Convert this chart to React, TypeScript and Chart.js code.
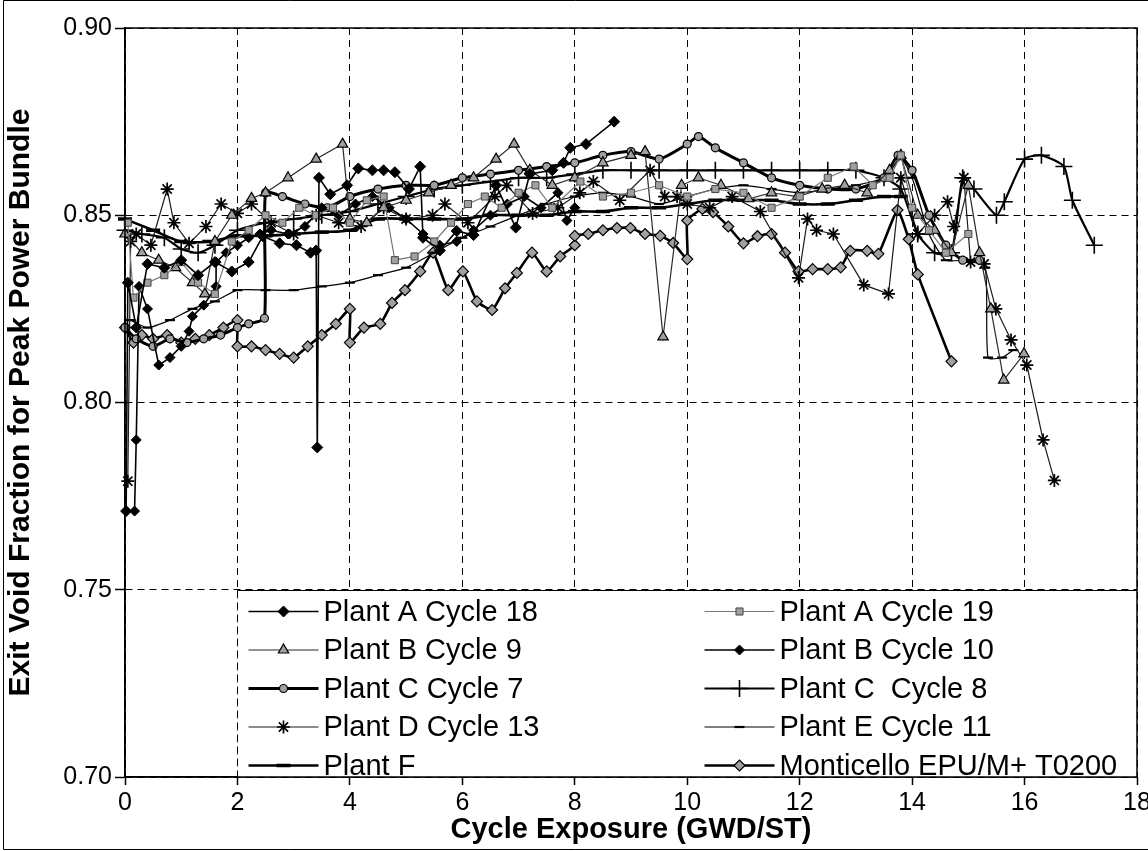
import React, { useEffect, useRef } from 'react';
import { Chart, registerables } from 'chart.js';
import { drawPoint } from 'chart.js/helpers';

Chart.register(...registerables);

// ---------- data ----------
const xTickStep = 2;
const yTickStep = 0.05;

const plantA18X = [0.02, 0.05, 0.2, 0.4, 0.7, 1.0, 1.3, 1.6, 1.9, 2.2, 2.45, 2.75, 3.05, 3.3, 3.4, 3.42, 3.45, 3.65, 3.95, 4.15, 4.4, 4.6, 4.8, 5.05, 5.25, 5.3, 5.6, 5.9, 6.2, 6.6, 6.95, 7.2, 7.6, 7.8, 7.92, 8.2, 8.7];
const plantA18Y = [0.771, 0.832, 0.82, 0.837, 0.836, 0.838, 0.834, 0.8375, 0.835, 0.8375, 0.8444, 0.8425, 0.842, 0.84, 0.8406, 0.788, 0.86, 0.8556, 0.858, 0.8625, 0.862, 0.862, 0.8615, 0.857, 0.863, 0.844, 0.8406, 0.8458, 0.8447, 0.858, 0.8467, 0.861, 0.862, 0.864, 0.868, 0.869, 0.875];

const plantA19X = [0.05, 0.15, 0.4, 0.7, 1.0, 1.3, 1.6, 1.9, 2.2, 2.5, 2.8, 3.1, 3.4, 3.7, 4.0, 4.3, 4.6, 4.8, 5.15, 5.5, 5.8, 6.1, 6.4, 6.7, 7.0, 7.3, 7.6, 8.1, 8.5, 9.0, 9.5, 10.0, 10.5, 11.0, 11.5, 12.0, 12.5, 12.96, 13.3, 13.6, 13.8, 14.0, 14.3, 14.6, 15.0];
const plantA19Y = [0.848, 0.828, 0.832, 0.834, 0.8375, 0.832, 0.829, 0.843, 0.846, 0.85, 0.848, 0.852, 0.85, 0.852, 0.848, 0.854, 0.855, 0.838, 0.839, 0.843, 0.848, 0.853, 0.855, 0.852, 0.856, 0.858, 0.852, 0.859, 0.855, 0.856, 0.858, 0.855, 0.857, 0.856, 0.852, 0.855, 0.86, 0.863, 0.858, 0.86, 0.866, 0.852, 0.846, 0.84, 0.845];

const plantB9X = [0.0, 0.3, 0.6, 0.9, 1.2, 1.42, 1.6, 1.9, 2.25, 2.5, 2.9, 3.4, 3.87, 4.0, 4.3, 4.6, 5.0, 5.4, 5.8, 6.2, 6.6, 6.92, 7.2, 7.6, 8.0, 8.5, 9.0, 9.25, 9.57, 9.9, 10.2, 10.6, 11.09, 11.5, 11.96, 12.4, 12.8, 13.2, 13.6, 13.8, 14.1, 14.4, 14.7, 15.0, 15.2, 15.4, 15.63, 15.99];
const plantB9Y = [0.845, 0.84, 0.838, 0.836, 0.832, 0.829, 0.843, 0.85, 0.8545, 0.856, 0.86, 0.865, 0.869, 0.849, 0.848, 0.852, 0.854, 0.856, 0.858, 0.86, 0.865, 0.869, 0.862, 0.858, 0.86, 0.864, 0.866, 0.867, 0.8175, 0.858, 0.86, 0.858, 0.8544, 0.856, 0.855, 0.857, 0.858, 0.856, 0.862, 0.866, 0.85, 0.846, 0.84, 0.858, 0.84, 0.825, 0.806, 0.813];

const plantB10X = [0.17, 0.2, 0.25, 0.4, 0.6, 0.8, 1.0, 1.14, 1.2, 1.4, 1.62, 1.62, 1.8, 2.0, 2.2, 2.4, 2.6, 2.9, 3.2, 3.5, 3.8, 4.1, 4.4, 4.7, 5.0, 5.3, 5.6, 5.9, 6.2, 6.5, 6.8, 7.1, 7.4, 7.7, 7.86, 8.0];
const plantB10Y = [0.771, 0.79, 0.831, 0.825, 0.81, 0.812, 0.815, 0.819, 0.823, 0.826, 0.831, 0.8375, 0.84, 0.842, 0.844, 0.845, 0.846, 0.845, 0.847, 0.852, 0.85, 0.853, 0.855, 0.852, 0.849, 0.845, 0.842, 0.843, 0.846, 0.85, 0.853, 0.855, 0.852, 0.856, 0.8486, 0.852];

const plantC7X = [0.0, 0.2, 0.5, 0.8, 1.1, 1.4, 1.7, 2.0, 2.2, 2.48, 2.5, 2.8, 3.2, 3.6, 4.0, 4.5, 5.0, 5.5, 6.0, 6.5, 7.0, 7.5, 8.0, 8.5, 9.0, 9.5, 10.0, 10.2, 10.5, 11.0, 11.5, 12.0, 12.5, 13.0, 13.5, 13.75, 14.0, 14.3, 14.6, 14.9, 15.2];
const plantC7Y = [0.82, 0.817, 0.815, 0.817, 0.816, 0.817, 0.818, 0.82, 0.821, 0.8225, 0.856, 0.855, 0.853, 0.852, 0.855, 0.857, 0.858, 0.858, 0.86, 0.861, 0.862, 0.863, 0.864, 0.866, 0.867, 0.865, 0.869, 0.871, 0.868, 0.864, 0.86, 0.858, 0.857, 0.857, 0.86, 0.866, 0.862, 0.85, 0.842, 0.838, 0.838];

const plantC8X = [0.0, 0.3, 0.7, 1.0, 1.3, 1.6, 2.0, 2.5, 3.0, 3.5, 4.0, 4.5, 5.0, 5.5, 6.0, 6.5, 7.0, 7.5, 8.0, 8.5, 9.0, 9.5, 10.0, 10.5, 11.0, 11.5, 12.0, 12.5, 13.0, 13.5, 13.8, 14.1, 14.4, 14.7, 14.9, 15.1, 15.5, 15.64, 16.0, 16.3, 16.7, 16.85, 17.24];
const plantC8Y = [0.846, 0.845, 0.844, 0.841, 0.84, 0.842, 0.846, 0.848, 0.849, 0.85, 0.851, 0.853, 0.855, 0.857, 0.858, 0.859, 0.86, 0.86, 0.861, 0.862, 0.862, 0.862, 0.862, 0.862, 0.862, 0.862, 0.862, 0.862, 0.862, 0.86, 0.857, 0.845, 0.84, 0.84, 0.86, 0.857, 0.85, 0.8536, 0.865, 0.866, 0.863, 0.854, 0.842];

const plantD13X = [0.05, 0.1, 0.2, 0.46, 0.75, 0.87, 1.14, 1.44, 1.71, 2.0, 2.25, 2.6, 3.0, 3.4, 3.8, 4.2, 4.6, 5.0, 5.47, 5.69, 6.1, 6.58, 6.79, 7.25, 7.7, 8.09, 8.33, 8.8, 9.34, 9.6, 9.82, 10.0, 10.4, 10.8, 11.3, 11.98, 12.14, 12.3, 12.6, 13.14, 13.58, 13.8, 14.1, 14.4, 14.63, 14.74, 14.92, 15.04, 15.28, 15.49, 15.76, 16.04, 16.33, 16.53];
const plantD13Y = [0.779, 0.843, 0.845, 0.842, 0.857, 0.848, 0.8425, 0.847, 0.853, 0.8505, 0.853, 0.848, 0.845, 0.85, 0.848, 0.847, 0.852, 0.849, 0.85, 0.853, 0.848, 0.855, 0.858, 0.8505, 0.852, 0.856, 0.859, 0.854, 0.862, 0.855, 0.855, 0.853, 0.852, 0.855, 0.851, 0.8333, 0.849, 0.846, 0.845, 0.8314, 0.829, 0.86, 0.845, 0.85, 0.8536, 0.847, 0.86, 0.8375, 0.837, 0.825, 0.8167, 0.81, 0.79, 0.7792];

const plantE11X = [0.1, 0.4, 0.8, 1.2, 1.6, 2.0, 2.5, 3.0, 3.5, 4.0, 4.5, 5.0, 5.5, 6.0, 6.5, 7.0, 7.5, 8.0, 8.5, 9.0, 9.5, 10.0, 10.5, 11.0, 11.5, 12.0, 12.5, 13.0, 13.5, 13.8, 14.0, 14.3, 14.6, 15.0, 15.3, 15.35, 15.6, 15.8];
const plantE11Y = [0.822, 0.82, 0.822, 0.825, 0.827, 0.83, 0.83, 0.83, 0.831, 0.832, 0.834, 0.836, 0.84, 0.844, 0.847, 0.85, 0.853, 0.855, 0.856, 0.855, 0.853, 0.855, 0.857, 0.858, 0.857, 0.856, 0.857, 0.858, 0.86, 0.865, 0.86, 0.845, 0.838, 0.838, 0.836, 0.812, 0.812, 0.814];

const plantFX = [0.0, 0.5, 1.0, 1.5, 2.0, 2.5, 3.0, 3.5, 4.0, 4.5, 5.0, 5.5, 6.0, 6.5, 7.0, 7.5, 8.0, 8.5, 9.0, 9.5, 10.0, 10.5, 11.0, 11.5, 12.0, 12.5, 13.0, 13.5, 13.8];
const plantFY = [0.849, 0.846, 0.843, 0.843, 0.8445, 0.8445, 0.845, 0.8455, 0.846, 0.849, 0.849, 0.849, 0.849, 0.85, 0.85, 0.85, 0.851, 0.851, 0.852, 0.852, 0.853, 0.854, 0.854, 0.854, 0.853, 0.853, 0.854, 0.855, 0.855];

const monticelloX = [0.0, 0.15, 0.3, 0.5, 0.75, 1.0, 1.25, 1.5, 1.75, 2.0, 2.0, 2.25, 2.5, 2.75, 3.0, 3.25, 3.5, 3.75, 4.0, 4.0, 4.25, 4.54, 4.75, 4.98, 5.25, 5.48, 5.75, 6.01, 6.26, 6.53, 6.76, 6.97, 7.24, 7.5, 7.74, 8.0, 8.0, 8.24, 8.5, 8.75, 8.99, 9.25, 9.52, 9.75, 10.0, 10.0, 10.27, 10.46, 10.73, 11.0, 11.25, 11.5, 11.74, 11.98, 12.23, 12.5, 12.73, 12.9, 13.2, 13.4, 13.74, 13.94, 14.1, 14.7];
const monticelloY = [0.82, 0.816, 0.818, 0.817, 0.818, 0.816, 0.817, 0.818, 0.82, 0.822, 0.815, 0.815, 0.814, 0.813, 0.812, 0.815, 0.818, 0.821, 0.825, 0.816, 0.82, 0.821, 0.8266, 0.83, 0.835, 0.84, 0.83, 0.835, 0.827, 0.8247, 0.8305, 0.8346, 0.84, 0.835, 0.839, 0.842, 0.8445, 0.845, 0.846, 0.8466, 0.8466, 0.845, 0.8445, 0.8426, 0.8383, 0.8486, 0.8517, 0.8508, 0.847, 0.8425, 0.8444, 0.845, 0.84, 0.835, 0.8356, 0.8356, 0.8361, 0.8405, 0.8405, 0.8397, 0.8514, 0.8436, 0.8342, 0.811];

// ---------- styling ----------
const FONT = '"Liberation Sans", Arial, Helvetica, sans-serif';
const GRAY = '#a0a0a0';

const series = [
  { label: 'Plant A Cycle 18', xs: plantA18X, ys: plantA18Y, line: '#000', lw: 1.6, ps: 'rectRot', r: 5.5, fill: '#000', pb: '#000', pbw: 1, t: 0 },
  { label: 'Plant A Cycle 19', xs: plantA19X, ys: plantA19Y, line: '#7a7a7a', lw: 1.2, ps: 'rect', r: 5, fill: GRAY, pb: '#444', pbw: 1, t: 0 },
  { label: 'Plant B Cycle 9', xs: plantB9X, ys: plantB9Y, line: '#2a2a2a', lw: 1.2, ps: 'triangle', r: 6, fill: GRAY, pb: '#000', pbw: 1.2, t: 0 },
  { label: 'Plant B Cycle 10', xs: plantB10X, ys: plantB10Y, line: '#000', lw: 1.6, ps: 'rectRot', r: 5, fill: '#000', pb: '#000', pbw: 1, t: 0 },
  { label: 'Plant C Cycle 7', xs: plantC7X, ys: plantC7Y, line: '#000', lw: 3, ps: 'circle', r: 4, fill: GRAY, pb: '#000', pbw: 1.2, t: 0.2 },
  { label: 'Plant C  Cycle 8', xs: plantC8X, ys: plantC8Y, line: '#000', lw: 2.2, ps: 'cross', r: 8.5, fill: '#000', pb: '#000', pbw: 1.6, t: 0.2 },
  { label: 'Plant D Cycle 13', xs: plantD13X, ys: plantD13Y, line: '#1a1a1a', lw: 1.2, ps: 'star', r: 6.5, fill: '#000', pb: '#000', pbw: 1.7, t: 0 },
  { label: 'Plant E Cycle 11', xs: plantE11X, ys: plantE11Y, line: '#000', lw: 1.2, ps: 'line', r: 5, fill: '#000', pb: '#000', pbw: 2.2, t: 0.2 },
  { label: 'Plant F', xs: plantFX, ys: plantFY, line: '#000', lw: 2.6, ps: 'line', r: 7, fill: '#000', pb: '#000', pbw: 3.5, t: 0.3 },
  { label: 'Monticello EPU/M+ T0200', xs: monticelloX, ys: monticelloY, line: '#000', lw: 2.6, ps: 'rectRot', r: 5.5, fill: GRAY, pb: '#000', pbw: 1.2, t: 0.15 },
];

const toPoints = (xs: number[], ys: number[]) => xs.map((x, i) => ({ x, y: ys[i] }));

const boxLegendPlugin = {
  id: 'boxLegend',
  afterDatasetsDraw(chart: any) {
    const { ctx, chartArea: a } = chart;
    const sx = chart.scales.x;
    const sy = chart.scales.y;
    const lx = Math.round(sx.getPixelForValue(2)) + 0.5;
    const ly = Math.round(sy.getPixelForValue(0.75)) + 0.5;
    const seg = (x1: number, y1: number, x2: number, y2: number) => {
      ctx.beginPath();
      ctx.moveTo(x1, y1);
      ctx.lineTo(x2, y2);
      ctx.stroke();
    };
    ctx.save();
    ctx.fillStyle = '#fff';
    ctx.fillRect(lx, ly, a.right - lx, a.bottom - ly);
    ctx.strokeStyle = '#000';
    ctx.lineWidth = 1;
    ctx.setLineDash([7, 5]);
    seg(lx, ly, lx, a.bottom);
    ctx.setLineDash([]);
    seg(lx, ly, a.right, ly);

    const colX = [lx + 11, lx + 467];
    const rowY0 = ly + 21;
    const rowH = 38.5;
    chart.data.datasets.forEach((ds: any, i: number) => {
      const col = i % 2;
      const row = Math.floor(i / 2);
      const x0 = colX[col];
      const y = rowY0 + row * rowH;
      ctx.strokeStyle = ds.borderColor;
      ctx.lineWidth = ds.borderWidth;
      seg(x0, y, x0 + 70, y);
      ctx.fillStyle = ds.pointBackgroundColor;
      ctx.strokeStyle = ds.pointBorderColor;
      ctx.lineWidth = ds.pointBorderWidth;
      drawPoint(ctx, { pointStyle: ds.pointStyle, radius: ds.pointRadius, rotation: 0, borderWidth: ds.pointBorderWidth } as any, x0 + 35, y);
      ctx.fillStyle = '#000';
      ctx.font = `29px ${FONT}`;
      ctx.textBaseline = 'middle';
      ctx.textAlign = 'left';
      ctx.fillText(ds.label, x0 + 75, y + 1);
    });

    ctx.strokeStyle = '#000';
    ctx.lineWidth = 1.5;
    ctx.strokeRect(a.left, a.top, a.right - a.left, a.bottom - a.top);
    ctx.restore();
  },
  afterDraw(chart: any) {
    const { ctx } = chart;
    ctx.save();
    ctx.strokeStyle = '#000';
    ctx.lineWidth = 1;
    ctx.beginPath();
    ctx.moveTo(3.5, 0.5);
    ctx.lineTo(3.5, 849.5);
    ctx.moveTo(3.5, 0.5);
    ctx.lineTo(1148, 0.5);
    ctx.moveTo(3.5, 849.5);
    ctx.lineTo(1148, 849.5);
    ctx.stroke();
    ctx.restore();
  },
};

export default function App() {
  const ref = useRef<HTMLCanvasElement>(null);
  useEffect(() => {
    if (!ref.current) return;
    const chart = new Chart(ref.current, {
      type: 'line',
      data: {
        datasets: series.map((s) => ({
          label: s.label,
          data: toPoints(s.xs, s.ys),
          borderColor: s.line,
          borderWidth: s.lw,
          pointStyle: s.ps as any,
          pointRadius: s.r,
          pointBackgroundColor: s.fill,
          pointBorderColor: s.pb,
          pointBorderWidth: s.pbw,
          tension: s.t,
          fill: false,
          clip: false as any,
        })),
      },
      options: {
        animation: false,
        responsive: false,
        devicePixelRatio: 1,
        events: [],
        layout: { padding: { top: 28, right: 11, left: 0, bottom: 0 } },
        plugins: { legend: { display: false }, tooltip: { enabled: false } },
        scales: {
          x: {
            type: 'linear',
            min: 0,
            max: 18,
            ticks: { stepSize: xTickStep, color: '#000', font: { family: FONT, size: 25 }, padding: 3, maxRotation: 0, autoSkip: false },
            grid: { color: '#000', lineWidth: 1, tickLength: 8, tickColor: '#000', tickWidth: 1.5, drawTicks: true },
            border: { display: true, color: '#000', width: 1.5, dash: [7, 5] },
            title: { display: true, text: 'Cycle Exposure (GWD/ST)', color: '#000', font: { family: FONT, size: 29, weight: 'bold' }, padding: { top: 0, bottom: 4 } },
            afterFit: (s: any) => {
              s.height = 74;
              s.paddingLeft = 0;
              s.paddingRight = 0;
            },
          },
          y: {
            type: 'linear',
            min: 0.7,
            max: 0.9,
            ticks: { stepSize: yTickStep, color: '#000', font: { family: FONT, size: 25 }, padding: 3, callback: (v: any) => Number(v).toFixed(2) },
            grid: { color: '#000', lineWidth: 1, tickLength: 10, tickColor: '#000', tickWidth: 1.5, drawTicks: true },
            border: { display: true, color: '#000', width: 1.5, dash: [7, 5] },
            title: { display: true, text: 'Exit Void Fraction for Peak Power Bundle', color: '#000', font: { family: FONT, size: 30, weight: 'bold' }, padding: { top: 3, bottom: 0 } },
            afterFit: (s: any) => {
              s.width = 125;
              s.paddingTop = 0;
              s.paddingBottom = 0;
            },
          },
        },
      },
      plugins: [boxLegendPlugin],
    } as any);
    return () => chart.destroy();
  }, []);
  return (
    <div style={{ position: 'absolute', left: 0, top: 0, width: 1148, height: 851, background: '#fff', overflow: 'hidden' }}>
      <canvas ref={ref} width={1148} height={851} style={{ display: 'block', width: 1148, height: 851 }} />
    </div>
  );
}
